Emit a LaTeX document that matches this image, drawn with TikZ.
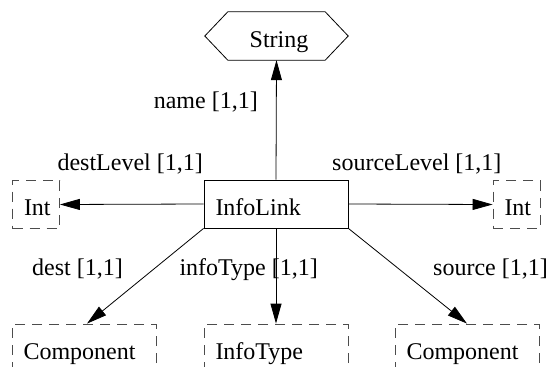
\documentclass[tikz,border=0pt]{standalone}
\usepackage{fontspec}
\setmainfont{Liberation Serif}
\usetikzlibrary{arrows.meta,calc}
\tikzset{
  lbl/.style={font=\fontsize{24}{28}\selectfont, inner sep=0pt},
  box/.style={draw, line width=0.8pt, minimum height=48pt,
    inner xsep=11.5pt, inner ysep=0pt, text width=121pt, align=left,
    text height=22pt, text depth=0pt, font=\fontsize{24}{28}\selectfont},
  extbox/.style={box, draw=black!70, dash pattern=on 10pt off 7pt},
  assoc/.style={line width=0.8pt, -{Triangle[length=20pt,width=11pt]}}
}
\begin{document}
\begin{tikzpicture}[x=1pt,y=-1pt]
  \useasboundingbox (0,0) rectangle (547,367);
  \clip (0,0) rectangle (547,367);

  % central class and its attribute types
  \node[box] (link) at (276,204) {InfoLink};
  \node[draw=none, minimum width=143pt, minimum height=48pt, inner sep=0pt,
    text height=22pt, text depth=0pt, font=\fontsize{24}{28}\selectfont]
    (str) at (279,36) {String};
  \draw[line width=0.8pt] ([xshift=-2.5pt]str.west) -- ([xshift=20.5pt]str.north west)
    -- ([xshift=-25.5pt]str.north east) -- ([xshift=-2.5pt]str.east)
    -- ([xshift=-25.5pt]str.south east) -- ([xshift=20.5pt]str.south west) -- cycle;

  \node[extbox, text width=24pt] (intl) at (36,204.5) {Int};
  \node[extbox, text width=24pt] (intr) at (516.5,204.5) {Int};
  \node[extbox] (compl) at (84,348) {Component};
  \node[extbox] (itype) at (276,348) {InfoType};
  \node[extbox] (compr) at (467,348) {Component};

  % associations
  \draw[assoc] (link.north) -- ([xshift=-2.5pt]str.south);
  \draw[assoc] (link.west) -- (intl.east);
  \draw[assoc] (link.east) -- (intr.west);
  \draw[assoc] (link.south) -- (itype.north);
  \draw[assoc] (link.south west) -- ([xshift=3pt]compl.north);
  \draw[assoc] (link.south east) -- (compr.north);

  % multiplicity labels
  \node[lbl, anchor=base east] (lname) at (258,108) {name [1,1]};
  \node[lbl, anchor=base east] (ldl) at (203,170) {destLevel [1,1]};
  \node[lbl, anchor=base west] (lsl) at (332,170) {sourceLevel [1,1]};
  \node[lbl, anchor=base east] (ld) at (123,275) {dest [1,1]};
  \node[lbl, anchor=base east] (lit) at (318,275) {infoType [1,1]};
  \node[lbl, anchor=base west] (ls) at (433,275) {source [1,1]};
\end{tikzpicture}
\end{document}
